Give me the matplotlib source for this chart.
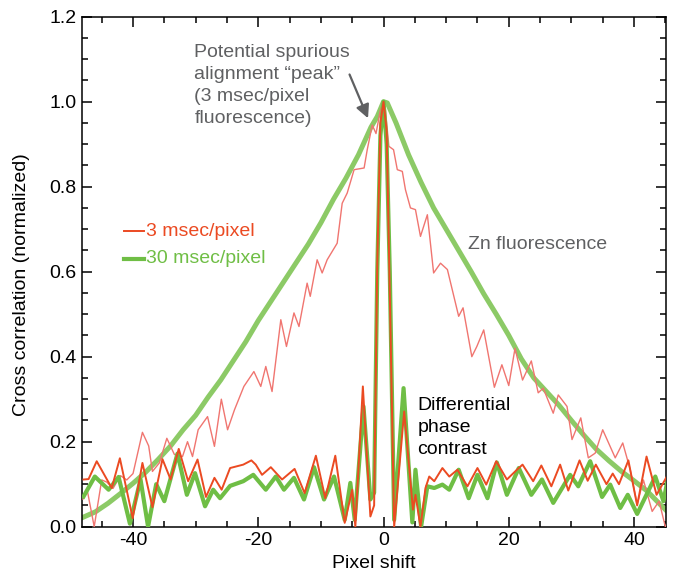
import matplotlib
matplotlib.use('Agg')
import matplotlib.pyplot as plt
from matplotlib.ticker import MultipleLocator

plt.rcParams['font.family'] = ['Liberation Sans', 'DejaVu Sans']
plt.rcParams['axes.unicode_minus'] = False

# Zn fluorescence cross correlation, 30 msec/pixel (smooth)
fl30_x = [-48, -46, -44, -42, -40, -38, -36, -34, -32, -30, -28, -26, -24, -22,
          -20, -18, -16, -14, -12, -10, -8, -6, -4, -2, -1, 0, 0.6, 2, 4, 6, 8,
          10, 12, 14, 16, 18, 20, 22, 24, 26, 28, 30, 32, 34, 36, 38, 40, 42,
          44, 45.5]
fl30_y = [0.022, 0.035, 0.055, 0.078, 0.102, 0.128, 0.158, 0.19, 0.228, 0.262,
          0.305, 0.345, 0.39, 0.435, 0.485, 0.53, 0.575, 0.62, 0.665, 0.715,
          0.77, 0.82, 0.875, 0.94, 0.965, 1.0, 0.997, 0.95, 0.875, 0.81, 0.75,
          0.70, 0.65, 0.60, 0.548, 0.50, 0.45, 0.395, 0.35, 0.318, 0.286,
          0.25, 0.215, 0.182, 0.155, 0.13, 0.108, 0.085, 0.055, 0.033]

# Zn fluorescence cross correlation, 3 msec/pixel (noisy)
fl3_x = [-48, -47.3, -46.2, -45.0, -44.2, -43.2, -42.0, -41.0, -40.0, -38.5,
         -37.5, -36.9, -35.8, -34.6, -33.4, -32.1, -31.3, -30.5, -29.6, -28.1,
         -27.0, -25.9, -24.9, -23.8, -22.3, -20.7, -19.6, -18.8, -17.8, -16.4,
         -15.5, -14.3, -13.5, -12.2, -11.7, -10.6, -9.8, -9.0, -7.4, -6.6,
         -5.8, -4.7, -3.1, -2.6, -1.8, -1.2, -0.5, 0, 0.3, 0.85, 1.6, 2.2,
         3.0, 3.5, 4.3, 5.1, 5.9, 7.0, 8.0, 9.1, 10.2, 12.0, 12.7, 14.1, 14.9,
         16.0, 17.7, 18.9, 20.0, 21.0, 22.2, 23.6, 24.7, 25.5, 27.1, 27.9,
         29.3, 30.1, 31.5, 32.7, 33.8, 35.0, 37.0, 38.2, 39.4, 40.5, 41.5,
         42.9, 44.0, 45.0, 46.0]
fl3_y = [0.065, 0.085, 0.0, 0.11, 0.105, 0.09, 0.12, 0.11, 0.125, 0.222,
         0.19, 0.13, 0.15, 0.208, 0.17, 0.165, 0.2, 0.165, 0.228, 0.259,
         0.189, 0.3, 0.228, 0.275, 0.33, 0.365, 0.33, 0.377, 0.318, 0.487,
         0.424, 0.503, 0.471, 0.573, 0.542, 0.628, 0.597, 0.628, 0.667, 0.761,
         0.785, 0.84, 0.844, 0.887, 0.945, 0.925, 0.98, 1.0, 0.981, 0.895,
         0.887, 0.84, 0.836, 0.793, 0.75, 0.746, 0.683, 0.734, 0.597, 0.62,
         0.605, 0.495, 0.515, 0.40, 0.424, 0.463, 0.328, 0.381, 0.332, 0.42,
         0.345, 0.39, 0.315, 0.326, 0.267, 0.31, 0.283, 0.205, 0.256, 0.162,
         0.173, 0.228, 0.162, 0.197, 0.134, 0.052, 0.11, 0.036, 0.06, 0.0,
         0.025]

# Differential phase contrast, 3 msec/pixel
dpc3_x = [-47.9, -47.1, -45.8, -43.4, -42.1, -40.05, -38.5, -36.9, -35.3,
          -34.0, -32.7, -31.2, -29.7, -28.35, -27.0, -25.85, -24.5, -22.4,
          -21.1, -20.4, -19.4, -18.0, -16.2, -14.2, -12.6, -10.8, -9.3, -7.7,
          -6.2, -5.0, -4.5, -3.3, -2.1, -1.5, -1.0, -0.5, 0.0, 0.5, 1.0, 1.7,
          3.3, 4.7, 5.1, 5.9, 6.7, 7.3, 8.1, 9.4, 10.5, 11.8, 13.4, 15.0,
          16.4, 18.0, 19.7, 21.3, 22.2, 23.9, 25.2, 26.8, 28.2, 29.5, 31.3,
          32.6, 33.9, 35.6, 36.6, 37.6, 39.1, 40.5, 42.0, 43.6, 45.5]
dpc3_y = [0.111, 0.112, 0.154, 0.091, 0.161, 0.02, 0.15, 0.046, 0.159,
          0.111, 0.183, 0.107, 0.158, 0.07, 0.115, 0.087, 0.138, 0.146,
          0.156, 0.146, 0.122, 0.14, 0.111, 0.136, 0.079, 0.167, 0.067, 0.167,
          0.009, 0.087, 0.0, 0.33, 0.024, 0.05, 0.62, 0.95, 1.0, 0.93, 0.55,
          0.0, 0.271, 0.04, 0.075, 0.0, 0.091, 0.118, 0.107, 0.138, 0.118,
          0.134, 0.095, 0.138, 0.099, 0.154, 0.111, 0.134, 0.146, 0.107,
          0.144, 0.095, 0.146, 0.085, 0.156, 0.108, 0.146, 0.10, 0.125, 0.10,
          0.156, 0.05, 0.165, 0.075, 0.125]

# Differential phase contrast, 30 msec/pixel
dpc30_x = [-47.9, -46.1, -43.9, -42.3, -40.5, -38.8, -37.6, -36.3, -35.0,
           -32.9, -31.4, -30.1, -28.5, -27.2, -26.1, -24.5, -22.4, -20.8,
           -18.8, -17.2, -15.9, -14.3, -12.7, -11.1, -9.5, -7.9, -6.2, -5.3,
           -4.6, -3.2, -2.1, -1.5, -1.0, -0.5, 0.0, 0.5, 1.0, 1.7, 3.2, 4.6,
           5.1, 6.0, 7.0, 8.1, 9.4, 10.5, 12.0, 13.6, 15.0, 16.6, 18.1, 19.7,
           21.6, 23.6, 25.3, 27.1, 29.8, 31.1, 33.0, 34.9, 36.2, 37.8, 39.0,
           40.5, 43.4, 44.7, 45.5]
dpc30_y = [0.071, 0.118, 0.087, 0.117, 0.007, 0.111, 0.0, 0.10, 0.06,
           0.172, 0.075, 0.126, 0.048, 0.087, 0.067, 0.096, 0.107, 0.122,
           0.087, 0.118, 0.087, 0.115, 0.064, 0.14, 0.064, 0.118, 0.016, 0.103,
           0.016, 0.283, 0.064, 0.08, 0.6, 0.92, 1.0, 0.9, 0.6, 0.016, 0.326,
           0.01, 0.134, 0.0, 0.095, 0.091, 0.099, 0.087, 0.134, 0.067, 0.122,
           0.067, 0.151, 0.075, 0.138, 0.075, 0.111, 0.056, 0.122, 0.095,
           0.154, 0.07, 0.099, 0.044, 0.075, 0.03, 0.118, 0.06, 0.12]

green_fl = '#8cca66'
green_dpc = '#6fbe45'
red_dpc = '#eb4a22'
pink = '#f07570'
gray = '#5f6062'

fig = plt.figure(figsize=(6.75, 5.77), dpi=100)
ax = fig.add_axes([0.121, 0.0872, 0.8656, 0.8839])

ax.plot(fl30_x, fl30_y, color=green_fl, lw=3.6, zorder=2)
ax.plot(fl3_x, fl3_y, color=pink, lw=1.0, zorder=3)
ax.plot(dpc30_x, dpc30_y, color=green_dpc, lw=3.0, zorder=4)
ax.plot(dpc3_x, dpc3_y, color=red_dpc, lw=1.4, zorder=5)

ax.set_xlim(-48.2, 45.1)
ax.set_ylim(0, 1.2)
ax.xaxis.set_major_locator(MultipleLocator(20))
ax.xaxis.set_minor_locator(MultipleLocator(5))
ax.yaxis.set_major_locator(MultipleLocator(0.2))
ax.yaxis.set_minor_locator(MultipleLocator(0.05))
ax.yaxis.set_major_formatter(plt.FormatStrFormatter('%.1f'))
ax.tick_params(which='both', direction='in', top=True, right=True,
               labelsize=14, width=1.1)
ax.tick_params(which='major', length=7)
ax.tick_params(which='minor', length=4)
for sp in ax.spines.values():
    sp.set_linewidth(1.1)

ax.set_xlabel('Pixel shift', fontsize=14, labelpad=5)
ax.set_ylabel('Cross correlation (normalized)', fontsize=14)
ax.yaxis.set_label_coords(-0.088, 0.474)

# legend drawn as short line samples with coloured text
ax.plot([-41.5, -38.3], [0.695, 0.695], color=red_dpc, lw=1.4)
ax.text(-38.0, 0.695, '3 msec/pixel', color=red_dpc, fontsize=14, va='center')
ax.plot([-41.5, -38.3], [0.63, 0.63], color=green_dpc, lw=3.0)
ax.text(-38.0, 0.63, '30 msec/pixel', color=green_dpc, fontsize=14, va='center')

ax.text(-30.2, 1.135, 'Potential spurious\nalignment \u201cpeak\u201d\n(3 msec/pixel\nfluorescence)',
        color=gray, fontsize=14, va='top', ha='left', linespacing=1.38)
ax.annotate('', xy=(-2.3, 0.955), xytext=(-5.6, 1.07),
            arrowprops=dict(arrowstyle='-|>', color=gray, lw=1.6,
                            mutation_scale=20))
ax.text(13.5, 0.665, 'Zn fluorescence', color=gray, fontsize=14, va='center')
ax.text(5.4, 0.233, 'Differential\nphase\ncontrast', color='black', fontsize=14,
        va='center', ha='left', linespacing=1.38)

fig.savefig('out.png', dpi=100)
